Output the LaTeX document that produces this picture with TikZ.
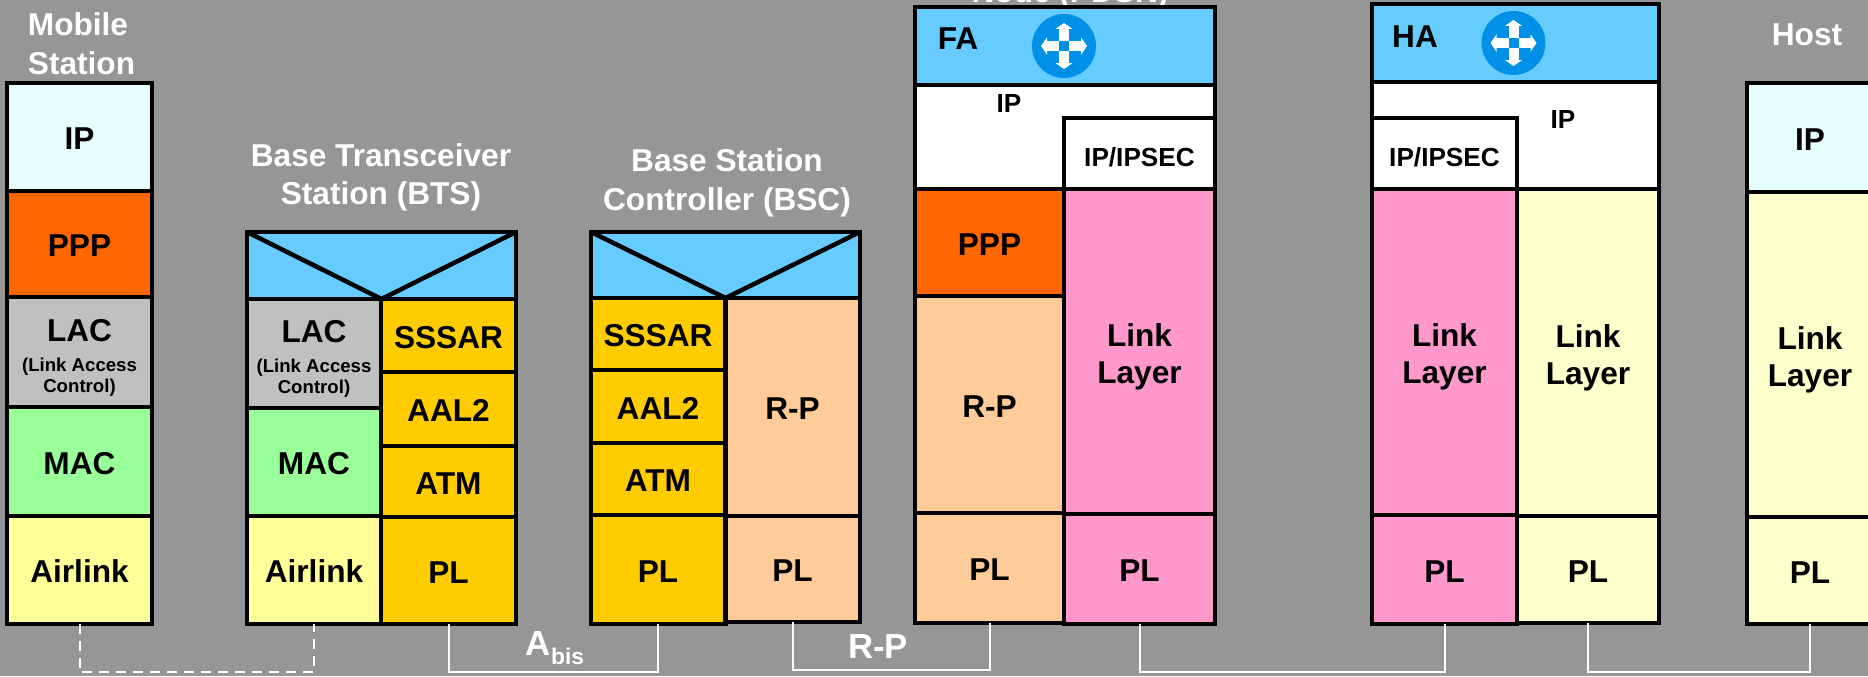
\documentclass[tikz,border=0pt]{standalone}
\usepackage{fontspec}
\setmainfont{Liberation Sans}
\usepackage{tikz}
\usetikzlibrary{positioning,arrows.meta}
\definecolor{bggray}{HTML}{969696}
\definecolor{ipcyan}{HTML}{E5FFFF}
\definecolor{pppred}{HTML}{FF6600}
\definecolor{lacgray}{HTML}{C0C0C0}
\definecolor{macgreen}{HTML}{99FF99}
\definecolor{airyellow}{HTML}{FFFF99}
\definecolor{atmgold}{HTML}{FFCC00}
\definecolor{rppeach}{HTML}{FFCC99}
\definecolor{topblue}{HTML}{66CCFF}
\definecolor{linkpink}{HTML}{FF99CC}
\definecolor{hostyellow}{HTML}{FFFFCC}
\definecolor{routerblue}{HTML}{0090E8}
\newcommand{\bigsize}{\fontsize{18pt}{21pt}\selectfont\bfseries}
\newcommand{\midsize}{\fontsize{14.9pt}{18pt}\selectfont\bfseries}
\newcommand{\subsize}{\fontsize{10.6pt}{12.5pt}\selectfont\bfseries}
\newcommand{\topstrut}{\rule{0pt}{19pt}}
\newcommand{\lactext}{\topstrut LAC\\[-4pt]\subsize (Link Access\\[-9pt]\subsize Control)}
\newcommand{\linktext}{\topstrut Link\\Layer}

\begin{document}
\begin{tikzpicture}[x=0.02cm, y=-0.02cm,
	lstyle/.style={rectangle, draw=black, line width=0.09cm, inner sep=0pt,
	outer sep=0pt, align=center, font=\bigsize, text height=14.3pt, text depth=0pt},
	mstyle/.style={lstyle, text height=, text depth=},
	boxdim/.style 2 args={minimum width=#1*0.02cm, minimum height=#2*0.02cm},
	titlestyle/.style={text=white, align=center, font=\bigsize, inner sep=0pt},
	linkstyle/.style={draw=white, line width=0.04cm},
	dashstyle/.style={linkstyle, dash pattern=on 0.2cm off 0.14cm},
	routerstyle/.style={circle, fill=routerblue, minimum size=1.28cm, inner sep=0pt},
	arrowstyle/.style={white, line width=0.2cm, -{Triangle[length=0.12cm, width=0.34cm]}}
	]
	\useasboundingbox (0,0) rectangle (1868,676);
	\clip (0,0) rectangle (1868,676);
	\fill[bggray] (0,0) rectangle (1868,676);

	% titles
	\draw(81.5,44)node[titlestyle, align=left] (mstitle) {Mobile\\[1pt]Station};
	\draw(381,177.5)node[titlestyle] (btstitle) {Base Transceiver\\[0.5pt]Station (BTS)};
	\draw(727,183)node[titlestyle] (bsctitle) {Base Station\\[1pt]Controller (BSC)};
	\draw(1070,3)node[titlestyle, anchor=base] (fatitle) {Node (PDSN)};
	\draw(1807,35)node[titlestyle] (hosttitle) {Host};

	% mobile station
	\draw(79.5,137)node[lstyle, boxdim={145}{108}, fill=ipcyan] (msip) {IP};
	\draw(79.5,244)node[lstyle, boxdim={145}{106}, fill=pppred] (msppp) {PPP};
	\draw(79.5,352)node[mstyle, boxdim={145}{110}, fill=lacgray] (mslac) {\lactext};
	\draw(79.5,461.5)node[lstyle, boxdim={145}{109}, fill=macgreen] (msmac) {MAC};
	\draw(79.5,570)node[lstyle, boxdim={145}{108}, fill=airyellow] (msair) {Airlink};

	% base transceiver station
	\draw(381.5,265.5)node[lstyle, boxdim={269}{67}, fill=topblue] (btstop) {};
	\draw[line width=0.09cm] (btstop.north west) -- (btstop.south) -- (btstop.north east);
	\draw(314,353.5)node[mstyle, boxdim={134}{109}, fill=lacgray] (btslac) {\lactext};
	\draw(314,462)node[lstyle, boxdim={134}{108}, fill=macgreen] (btsmac) {MAC};
	\draw(314,570)node[lstyle, boxdim={134}{108}, fill=airyellow] (btsair) {Airlink};
	\draw(448.5,335.5)node[lstyle, boxdim={135}{73}, fill=atmgold] (btssar) {SSSAR};
	\draw(448.5,409)node[lstyle, boxdim={135}{74}, fill=atmgold] (btsaal) {AAL2};
	\draw(448.5,481.5)node[lstyle, boxdim={135}{71}, fill=atmgold] (btsatm) {ATM};
	\draw(448.5,570.5)node[lstyle, boxdim={135}{107}, fill=atmgold] (btspl) {PL};

	% base station controller
	\draw(725.5,265)node[lstyle, boxdim={269}{66}, fill=topblue] (bsctop) {};
	\draw[line width=0.09cm] (bsctop.north west) -- (bsctop.south) -- (bsctop.north east);
	\draw(792.5,407)node[lstyle, boxdim={134.5}{218}, fill=rppeach] (bscrp) {R-P};
	\draw(792.5,569)node[lstyle, boxdim={134.5}{106}, fill=rppeach] (bscrpl) {PL};
	\draw(658,334)node[lstyle, boxdim={134.5}{72}, fill=atmgold] (bscsar) {SSSAR};
	\draw(658,406.5)node[lstyle, boxdim={134.5}{73}, fill=atmgold] (bscaal) {AAL2};
	\draw(658,479)node[lstyle, boxdim={134.5}{72}, fill=atmgold] (bscatm) {ATM};
	\draw(658,569.5)node[lstyle, boxdim={134.5}{109}, fill=atmgold] (bscpl) {PL};

	% foreign agent
	\draw(1065,46)node[lstyle, boxdim={300}{78}, fill=topblue] (fatop) {};
	\draw(1065,137)node[lstyle, boxdim={300}{104}, fill=white] (faip) {};
	\draw(1009,103)node[inner sep=0pt, font=\midsize] (faiplabel) {IP};
	\draw(1139.5,153.5)node[lstyle, boxdim={151}{71}, fill=white, font=\midsize] (fasec) {IP/IPSEC};
	\draw(989.5,242.5)node[lstyle, boxdim={149}{107}, fill=pppred] (fappp) {PPP};
	\draw(989.5,404.5)node[lstyle, boxdim={149}{217}, fill=rppeach] (farp) {R-P};
	\draw(989.5,568)node[lstyle, boxdim={149}{110}, fill=rppeach] (farpl) {PL};
	\draw(1139.5,351.5)node[mstyle, boxdim={151}{325}, fill=linkpink] (falink) {\linktext};
	\draw(1139.5,569)node[lstyle, boxdim={151}{110}, fill=linkpink] (fapl) {PL};
	\draw(958,39)node[inner sep=0pt, font=\bigsize] (falabel) {FA};
	\draw(1064,46)node[routerstyle] (farouter) {};
	\foreach \a in {0,90,180,270}
	\draw[arrowstyle, shift={(farouter)}] (\a:5) -- (\a:23);

	% home agent
	\draw(1515.5,43)node[lstyle, boxdim={287}{78}, fill=topblue] (hatop) {};
	\draw(1515.5,135.5)node[lstyle, boxdim={287}{107}, fill=white] (haip) {};
	\draw(1563,119)node[inner sep=0pt, font=\midsize] (haiplabel) {IP};
	\draw(1444.5,153.5)node[lstyle, boxdim={145}{71}, fill=white, font=\midsize] (hasec) {IP/IPSEC};
	\draw(1444.5,352)node[mstyle, boxdim={145}{326}, fill=linkpink] (halink) {\linktext};
	\draw(1444.5,569.5)node[lstyle, boxdim={145}{109}, fill=linkpink] (hapl) {PL};
	\draw(1588,352.5)node[mstyle, boxdim={142}{327}, fill=hostyellow] (hahlink) {\linktext};
	\draw(1588,569.5)node[lstyle, boxdim={142}{107}, fill=hostyellow] (hahpl) {PL};
	\draw(1415,37)node[inner sep=0pt, font=\bigsize] (halabel) {HA};
	\draw(1513.5,43)node[routerstyle] (harouter) {};
	\foreach \a in {0,90,180,270}
	\draw[arrowstyle, shift={(harouter)}] (\a:5) -- (\a:23);

	% host
	\draw(1810,137.5)node[lstyle, boxdim={126}{109}, fill=ipcyan] (hostip) {IP};
	\draw(1810,354.5)node[mstyle, boxdim={126}{325}, fill=hostyellow] (hostlink) {\linktext};
	\draw(1810,570.5)node[lstyle, boxdim={126}{107}, fill=hostyellow] (hostpl) {PL};

	% links under the stacks
	\draw[dashstyle] (msair.south) -- ++(0,48) -| (btsair.south);
	\draw[linkstyle] (btspl.south) -- ++(0,48) -| (bscpl.south);
	\draw[linkstyle] (bscrpl.south) -- ++(0,48) -| (farpl.south);
	\draw[linkstyle] (fapl.south) -- ++(0,48) -| (hapl.south);
	\draw[linkstyle] (hahpl.south) -- ++(0,49) -| (hostpl.south);
	\draw(555,655)node[titlestyle, anchor=base, font=\fontsize{19.8pt}{24pt}\selectfont\bfseries] (abislabel)
	{A\raisebox{-0.18cm}{\fontsize{13pt}{15pt}\selectfont bis}};
	\draw(878,658)node[titlestyle, anchor=base, font=\fontsize{19.8pt}{24pt}\selectfont\bfseries] (rplabel) {R-P};
\end{tikzpicture}
\end{document}
